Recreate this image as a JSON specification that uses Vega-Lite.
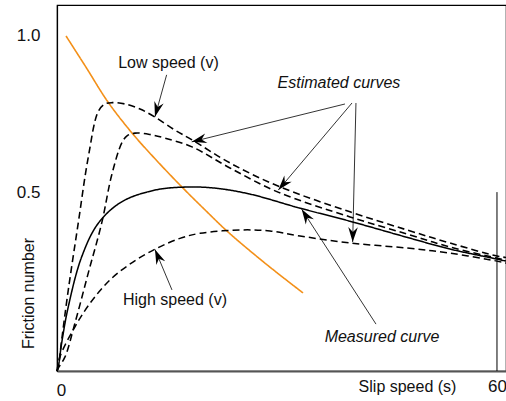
{
  "$schema": "https://vega.github.io/schema/vega-lite/v6.json",
  "width": 449,
  "height": 366,
  "autosize": "none",
  "padding": {"left": 57, "top": 5, "right": 0, "bottom": 30},
  "background": "white",
  "config": {
    "view": {"stroke": "#000", "strokeWidth": 1.2},
    "font": "Liberation Sans, Arial, sans-serif"
  },
  "datasets": {
    "curves": [
      {"curve": "Orange curve", "s": 1.23, "f": 1.0},
      {"curve": "Orange curve", "s": 3.95, "f": 0.907},
      {"curve": "Orange curve", "s": 6.95, "f": 0.803},
      {"curve": "Orange curve", "s": 10.36, "f": 0.707},
      {"curve": "Orange curve", "s": 13.77, "f": 0.624},
      {"curve": "Orange curve", "s": 17.18, "f": 0.546},
      {"curve": "Orange curve", "s": 20.18, "f": 0.481},
      {"curve": "Orange curve", "s": 23.32, "f": 0.415},
      {"curve": "Orange curve", "s": 28.36, "f": 0.322},
      {"curve": "Orange curve", "s": 33.55, "f": 0.233},

      {"curve": "Low speed estimate", "s": 0, "f": 0},
      {"curve": "Low speed estimate", "s": 0.18, "f": 0.013},
      {"curve": "Low speed estimate", "s": 0.64, "f": 0.093},
      {"curve": "Low speed estimate", "s": 1.54, "f": 0.242},
      {"curve": "Low speed estimate", "s": 2.9, "f": 0.442},
      {"curve": "Low speed estimate", "s": 4.27, "f": 0.639},
      {"curve": "Low speed estimate", "s": 5.63, "f": 0.775},
      {"curve": "Low speed estimate", "s": 6.55, "f": 0.797},
      {"curve": "Low speed estimate", "s": 7.5, "f": 0.801},
      {"curve": "Low speed estimate", "s": 9.27, "f": 0.797},
      {"curve": "Low speed estimate", "s": 11.32, "f": 0.782},
      {"curve": "Low speed estimate", "s": 13.36, "f": 0.758},
      {"curve": "Low speed estimate", "s": 16.09, "f": 0.719},
      {"curve": "Low speed estimate", "s": 18.41, "f": 0.69},
      {"curve": "Low speed estimate", "s": 23.59, "f": 0.621},
      {"curve": "Low speed estimate", "s": 30.14, "f": 0.552},
      {"curve": "Low speed estimate", "s": 39.96, "f": 0.475},
      {"curve": "Low speed estimate", "s": 47.73, "f": 0.421},
      {"curve": "Low speed estimate", "s": 53.59, "f": 0.382},
      {"curve": "Low speed estimate", "s": 60, "f": 0.343},
      {"curve": "Low speed estimate", "s": 61.23, "f": 0.339},

      {"curve": "Mid estimate", "s": 0, "f": 0},
      {"curve": "Mid estimate", "s": 0.27, "f": 0.012},
      {"curve": "Mid estimate", "s": 1.09, "f": 0.042},
      {"curve": "Mid estimate", "s": 2.45, "f": 0.143},
      {"curve": "Mid estimate", "s": 4.27, "f": 0.293},
      {"curve": "Mid estimate", "s": 6.1, "f": 0.442},
      {"curve": "Mid estimate", "s": 7.46, "f": 0.585},
      {"curve": "Mid estimate", "s": 8.82, "f": 0.68},
      {"curve": "Mid estimate", "s": 9.55, "f": 0.702},
      {"curve": "Mid estimate", "s": 10.64, "f": 0.71},
      {"curve": "Mid estimate", "s": 12.68, "f": 0.706},
      {"curve": "Mid estimate", "s": 14.73, "f": 0.695},
      {"curve": "Mid estimate", "s": 18.41, "f": 0.669},
      {"curve": "Mid estimate", "s": 23.59, "f": 0.606},
      {"curve": "Mid estimate", "s": 30.14, "f": 0.534},
      {"curve": "Mid estimate", "s": 39.96, "f": 0.46},
      {"curve": "Mid estimate", "s": 47.73, "f": 0.409},
      {"curve": "Mid estimate", "s": 53.59, "f": 0.37},
      {"curve": "Mid estimate", "s": 60, "f": 0.337},
      {"curve": "Mid estimate", "s": 61.23, "f": 0.331},

      {"curve": "Measured", "s": 0, "f": 0},
      {"curve": "Measured", "s": 0.18, "f": 0.013},
      {"curve": "Measured", "s": 0.64, "f": 0.084},
      {"curve": "Measured", "s": 1.54, "f": 0.192},
      {"curve": "Measured", "s": 3.37, "f": 0.341},
      {"curve": "Measured", "s": 5.63, "f": 0.441},
      {"curve": "Measured", "s": 8.82, "f": 0.505},
      {"curve": "Measured", "s": 13.36, "f": 0.54},
      {"curve": "Measured", "s": 17.46, "f": 0.549},
      {"curve": "Measured", "s": 21.5, "f": 0.546},
      {"curve": "Measured", "s": 26.32, "f": 0.528},
      {"curve": "Measured", "s": 33.14, "f": 0.486},
      {"curve": "Measured", "s": 39.96, "f": 0.447},
      {"curve": "Measured", "s": 47.73, "f": 0.399},
      {"curve": "Measured", "s": 53.59, "f": 0.364},
      {"curve": "Measured", "s": 60, "f": 0.334},
      {"curve": "Measured", "s": 61.23, "f": 0.328},

      {"curve": "High speed estimate", "s": 0, "f": 0},
      {"curve": "High speed estimate", "s": 0.41, "f": 0.043},
      {"curve": "High speed estimate", "s": 2.45, "f": 0.132},
      {"curve": "High speed estimate", "s": 4.5, "f": 0.202},
      {"curve": "High speed estimate", "s": 7.23, "f": 0.272},
      {"curve": "High speed estimate", "s": 10.41, "f": 0.326},
      {"curve": "High speed estimate", "s": 13.6, "f": 0.366},
      {"curve": "High speed estimate", "s": 16.77, "f": 0.396},
      {"curve": "High speed estimate", "s": 19.5, "f": 0.411},
      {"curve": "High speed estimate", "s": 24.96, "f": 0.421},
      {"curve": "High speed estimate", "s": 29.05, "f": 0.418},
      {"curve": "High speed estimate", "s": 33.14, "f": 0.403},
      {"curve": "High speed estimate", "s": 39.96, "f": 0.382},
      {"curve": "High speed estimate", "s": 47.73, "f": 0.367},
      {"curve": "High speed estimate", "s": 53.59, "f": 0.352},
      {"curve": "High speed estimate", "s": 60, "f": 0.328},
      {"curve": "High speed estimate", "s": 61.23, "f": 0.322}
    ],
    "arrows": [
      {"s": 13.36, "f": 0.759, "s0": 14.95, "f0": 0.884},
      {"s": 18.37, "f": 0.684, "s0": 39.27, "f0": 0.797},
      {"s": 30.18, "f": 0.54, "s0": 40.23, "f0": 0.8},
      {"s": 40.32, "f": 0.385, "s0": 40.77, "f0": 0.8},
      {"s": 33.37, "f": 0.483, "s0": 43.5, "f0": 0.14},
      {"s": 13.36, "f": 0.363, "s0": 15.68, "f0": 0.242}
    ],
    "notes": [
      {"label": "Low speed (v)", "s": 15.2, "f": 0.919},
      {"label": "Estimated curves", "s": 38.45, "f": 0.86},
      {"label": "High speed (v)", "s": 16.09, "f": 0.212},
      {"label": "Measured curve", "s": 44.32, "f": 0.101}
    ],
    "marker": [
      {"s": 60, "f": 0, "f2": 0.534}
    ]
  },
  "encoding": {
    "x": {
      "field": "s",
      "type": "quantitative",
      "scale": {"domain": [0, 61.23], "nice": false, "zero": false},
      "axis": {
        "values": [0, 60],
        "title": "Slip speed (s)",
        "grid": false,
        "ticks": false,
        "tickSize": 0,
        "domainColor": "#555",
        "domainWidth": 2.2,
        "labelFontSize": 17,
        "labelColor": "#111",
        "labelBaseline": "middle",
        "labelFlush": false,
        "labelOverlap": false,
        "labelPadding": {"condition": {"test": "datum.value < 1", "value": 19}, "value": 15},
        "labelOffset": {"condition": {"test": "datum.value < 1", "value": 4}, "value": 0},
        "titleFontSize": 16,
        "titleFontWeight": "normal",
        "titleColor": "#111",
        "titleX": 350,
        "titleY": 15,
        "titleBaseline": "middle",
        "titleAlign": "center"
      }
    },
    "y": {
      "field": "f",
      "type": "quantitative",
      "scale": {"domain": [0, 1.0925], "nice": false, "zero": false},
      "axis": {
        "values": [0.5, 1],
        "format": ".1f",
        "title": "Friction number",
        "grid": false,
        "ticks": false,
        "tickSize": 0,
        "domainColor": "#000",
        "domainWidth": 1.2,
        "labelFontSize": 17,
        "labelColor": "#111",
        "labelPadding": 17,
        "labelBaseline": "middle",
        "labelOffset": {"condition": {"test": "datum.value < 0.7", "value": -11}, "value": 0},
        "titleFontSize": 16,
        "titleFontWeight": "normal",
        "titleColor": "#111",
        "titleX": -29,
        "titleY": 288,
        "titleAngle": -90,
        "titleBaseline": "middle",
        "titleAlign": "center"
      }
    }
  },
  "layer": [
    {
      "data": {"name": "marker"},
      "mark": {"type": "rule", "color": "#000", "strokeWidth": 1},
      "encoding": {"y2": {"field": "f2"}}
    },
    {
      "data": {"name": "curves"},
      "mark": {"type": "line", "interpolate": "catmull-rom"},
      "encoding": {
        "detail": {"field": "curve", "type": "nominal"},
        "color": {
          "field": "curve", "type": "nominal", "legend": null,
          "scale": {"domain": ["Orange curve", "Low speed estimate", "Mid estimate", "Measured", "High speed estimate"],
                    "range": ["#f39019", "#000000", "#000000", "#000000", "#000000"]}
        },
        "strokeDash": {
          "field": "curve", "type": "nominal", "legend": null,
          "scale": {"domain": ["Orange curve", "Low speed estimate", "Mid estimate", "Measured", "High speed estimate"],
                    "range": [[1, 0], [7, 4], [7, 4], [1, 0], [7, 4]]}
        },
        "strokeWidth": {
          "field": "curve", "type": "ordinal", "legend": null,
          "scale": {"domain": ["Orange curve", "Low speed estimate", "Mid estimate", "Measured", "High speed estimate"],
                    "range": [1.6, 1.5, 1.5, 1.8, 1.5]}
        }
      }
    },
    {
      "data": {"name": "arrows"},
      "mark": {"type": "rule", "color": "#000", "strokeWidth": 0.8},
      "encoding": {"x2": {"field": "s0"}, "y2": {"field": "f0"}}
    },
    {
      "data": {"name": "arrows"},
      "transform": [
        {"calculate": "atan2((datum.s - datum.s0) * 7.333, (datum.f - datum.f0) * 335) * 180 / PI", "as": "ang"}
      ],
      "mark": {"type": "point", "shape": "M0,0 L0.64,2 L0,1.35 L-0.64,2 Z", "size": 225, "filled": true, "color": "#000", "opacity": 1, "strokeWidth": 0},
      "encoding": {"angle": {"field": "ang", "type": "quantitative", "scale": null}}
    },
    {
      "data": {"name": "notes"},
      "transform": [{"filter": "indexof(['Low speed (v)', 'High speed (v)'], datum.label) >= 0"}],
      "mark": {"type": "text", "fontSize": 16, "color": "#111", "align": "center", "baseline": "middle"},
      "encoding": {"text": {"field": "label"}}
    },
    {
      "data": {"name": "notes"},
      "transform": [{"filter": "indexof(['Estimated curves', 'Measured curve'], datum.label) >= 0"}],
      "mark": {"type": "text", "fontSize": 16, "fontStyle": "italic", "color": "#111", "align": "center", "baseline": "middle"},
      "encoding": {"text": {"field": "label"}}
    }
  ]
}
